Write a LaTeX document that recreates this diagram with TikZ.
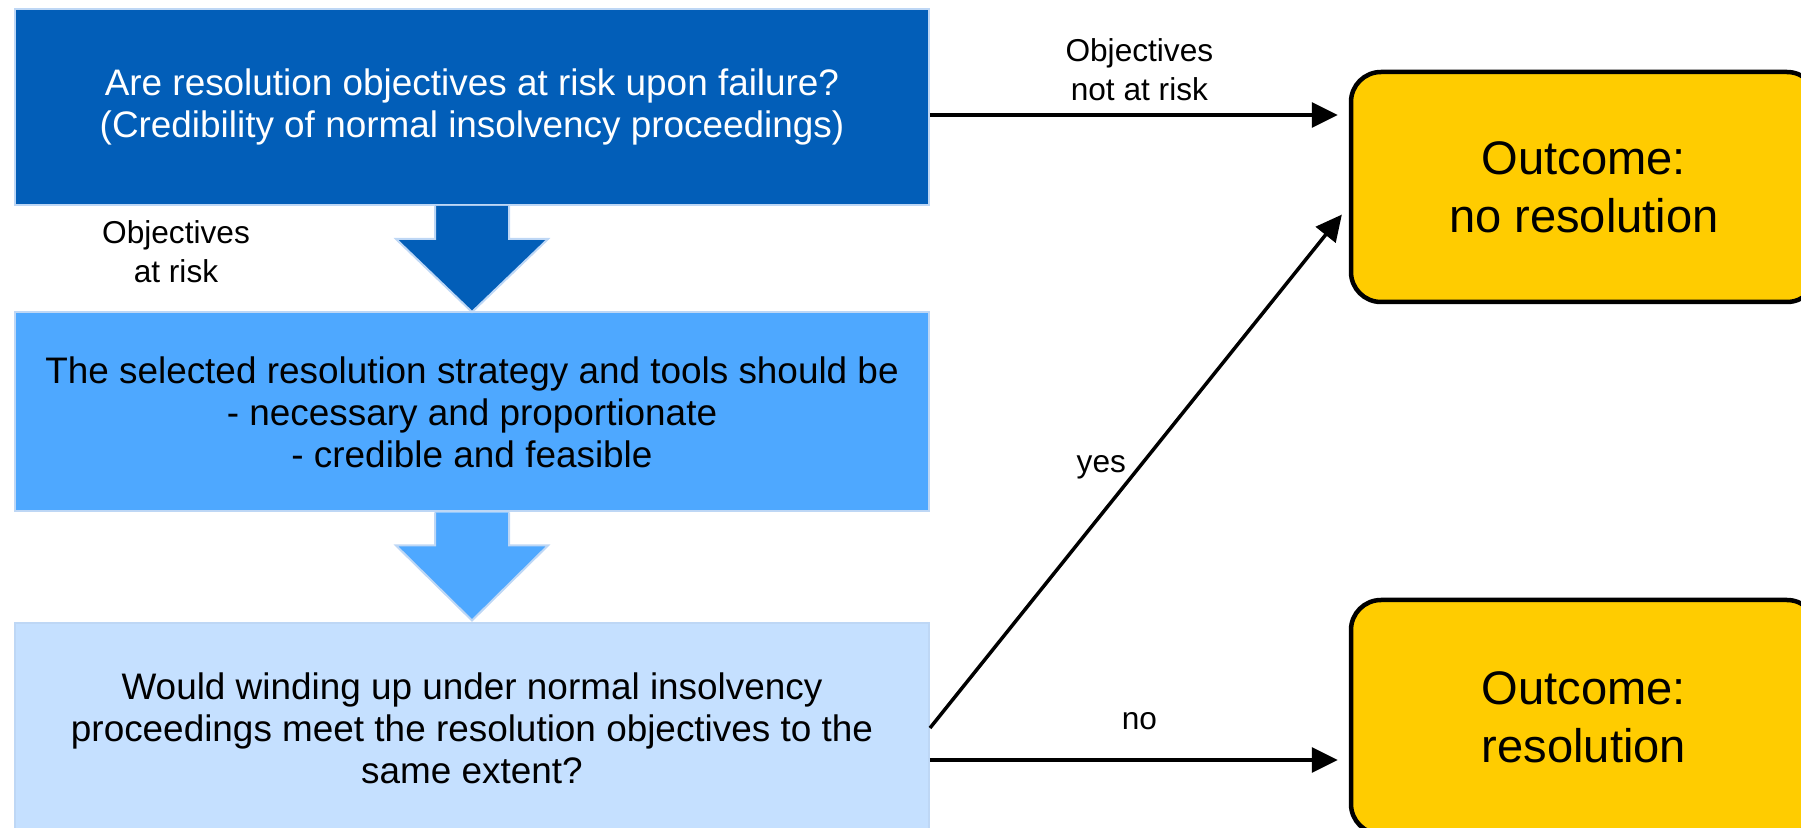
\documentclass[tikz,border=0pt]{standalone}
\usepackage{fontspec}
\setmainfont{Liberation Sans}
\usetikzlibrary{arrows.meta}
\definecolor{darkblue}{RGB}{2,94,184}
\definecolor{midblue}{RGB}{78,168,255}
\definecolor{paleblue}{RGB}{197,224,255}
\definecolor{edgeblue}{RGB}{190,215,245}
\definecolor{gold}{RGB}{255,204,0}
\tikzset{
  qbox/.style={rectangle, draw=edgeblue, line width=0.2mm, minimum width=91.4mm, align=center, font=\fontsize{10.5}{12}\selectfont},
  outbox/.style={rectangle, rounded corners=3mm, draw=black, line width=0.45mm, fill=gold, minimum width=46.6mm, align=center, font=\fontsize{13.4}{16.5}\selectfont},
  flow/.style={-{Triangle[length=2.6mm,width=2.5mm]}, line width=0.35mm},
  lbl/.style={font=\fontsize{9}{11}\selectfont, align=center}
}
\begin{document}
\begin{tikzpicture}[x=0.1mm,y=-0.1mm]
\useasboundingbox (0,0) rectangle (1801,828);
\clip (0,0) rectangle (1801,828);
\node[qbox, fill=darkblue, text=white, minimum height=19.6mm] (q1) at (472,107) {Are resolution objectives at risk upon failure?\\(Credibility of normal insolvency proceedings)};
\node[qbox, fill=midblue, minimum height=19.9mm] (q2) at (472,412) {The selected resolution strategy and tools should be\\- necessary and proportionate\\- credible and feasible};
\node[qbox, fill=paleblue, minimum height=21mm] (q3) at (472,728) {Would winding up under normal insolvency\\proceedings meet the resolution objectives to the\\same extent?};
\node[outbox, minimum height=23mm] (o1) at (1584,187) {Outcome:\\no resolution};
\node[outbox, minimum height=23.4mm] (o2) at (1584,717) {Outcome:\\resolution};
% block arrows between the questions
\path[fill=darkblue, draw=edgeblue, line width=0.2mm, shift={(q1.south)}] (-37,0) -- (-37,33) -- (-76,33) -- (0,106) -- (76,33) -- (37,33) -- (37,0);
\path[fill=midblue, draw=edgeblue, line width=0.2mm, shift={(q2.south)}] (-37,0) -- (-37,33) -- (-76,33) -- (0,108) -- (76,33) -- (37,33) -- (37,0);
\node[lbl] (l1) at (176,252) {Objectives\\at risk};
\coordinate (p1) at ([yshift=-0.8mm]q1.east);
\coordinate (p3) at ([yshift=-3.2mm]q3.east);
\path[draw,flow,shorten >=1.1mm] (p1) -- (p1 -| o1.west) node[lbl, midway, above=0.1mm] {Objectives\\not at risk};
\path[draw,flow,shorten >=1.1mm] (q3.east) -- ([yshift=-1.9mm]o1.west) node[lbl, midway, left] {yes};
\path[draw,flow,shorten >=1.1mm] (p3) -- (p3 -| o2.west) node[lbl, midway, above=1.7mm] {no};
\end{tikzpicture}
\end{document}
